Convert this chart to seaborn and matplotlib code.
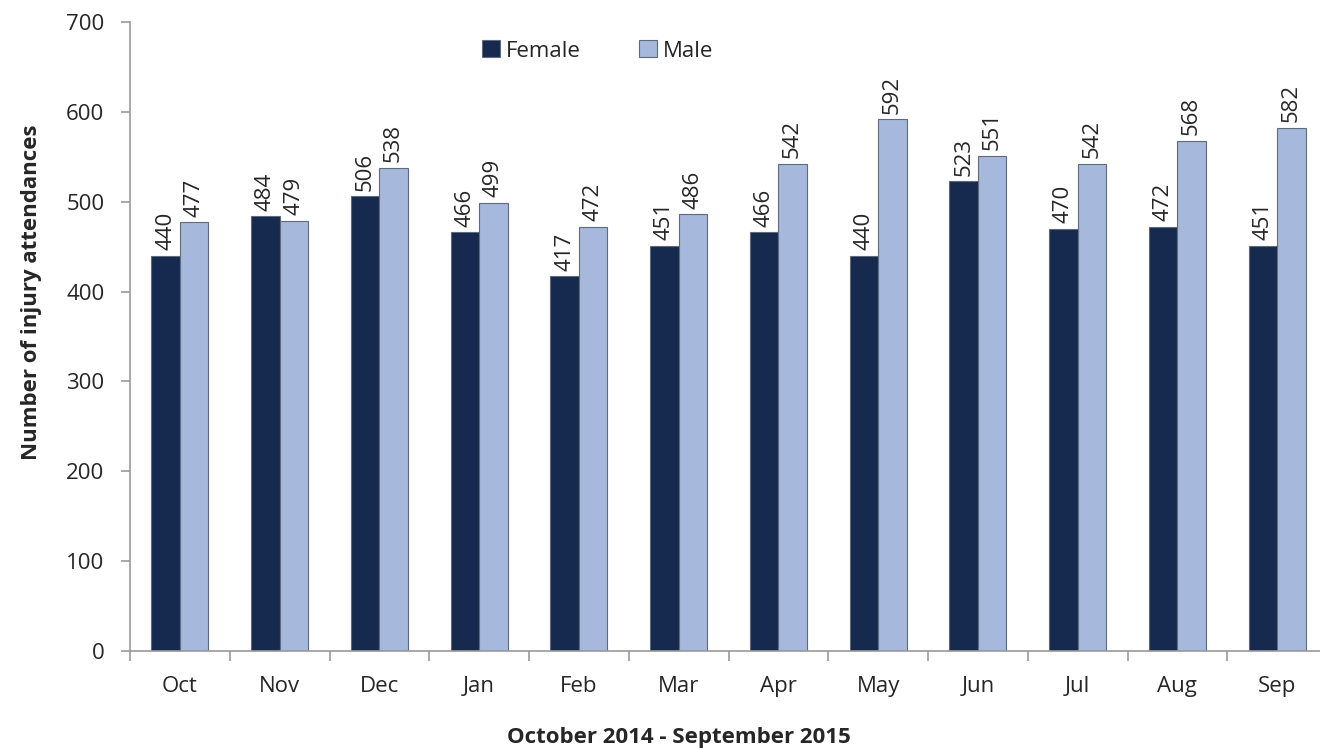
import pandas as pd
import matplotlib.pyplot as plt
import seaborn as sns
import numpy as np

months = ['Oct', 'Nov', 'Dec', 'Jan', 'Feb', 'Mar', 'Apr', 'May', 'Jun', 'Jul', 'Aug', 'Sep']
female = [440, 484, 506, 466, 417, 451, 466, 440, 523, 470, 472, 451]
male = [477, 479, 538, 499, 472, 486, 542, 592, 551, 542, 568, 582]

df = pd.DataFrame({
    'month': months * 2,
    'count': female + male,
    'sex': ['Female'] * len(months) + ['Male'] * len(months),
})

sns.set_style('white')
plt.rcParams['font.family'] = ['Open Sans', 'DejaVu Sans']

fig = plt.figure(figsize=(13.2, 7.49), dpi=100)
# right edge of the last category runs slightly past the image, as in the original
ax = fig.add_axes([0.0985, 0.1308, 0.9068, 0.8398])

palette = {'Female': '#152a4e', 'Male': '#a6b8dc'}
sns.barplot(data=df, x='month', y='count', hue='sex', palette=palette,
            width=0.57, ax=ax, saturation=1, edgecolor='#5f6b7d', linewidth=0.8)

for c in ax.containers:
    ax.bar_label(c, rotation=90, padding=4, fontsize=16)

ax.set_ylim(0, 700)
ax.set_yticks(range(0, 701, 100))
ax.set_xlim(-0.5, len(months) - 0.5)
ax.set_xticks(np.arange(-0.5, len(months), 1), minor=True)
ax.tick_params(axis='x', which='major', length=0, labelsize=16, pad=18)
ax.tick_params(axis='x', which='minor', length=7, color='#999999', width=1.2, direction='out', bottom=True)
ax.tick_params(axis='y', length=6.5, width=1.2, color='#999999', labelsize=16, left=True, pad=12)
for s in ['top', 'right']:
    ax.spines[s].set_visible(False)
for s in ['left', 'bottom']:
    ax.spines[s].set_color('#999999')
    ax.spines[s].set_linewidth(1.2)

ax.set_xlabel('')
ax.set_ylabel('')
fig.text(0.514, 0.0147, 'October 2014 - September 2015', fontsize=16, fontweight='bold',
         ha='center', va='center')
fig.text(0.0235, 0.61, 'Number of injury attendances', fontsize=16, fontweight='bold',
         ha='center', va='center', rotation=90)

handles, labels = ax.get_legend_handles_labels()
ax.legend_.remove()
fig.legend(handles, labels, loc='center left', bbox_to_anchor=(0.365, 0.932), ncol=2,
           frameon=False, fontsize=16, handlelength=0.8, handleheight=0.8,
           columnspacing=2.6, handletextpad=0.3, borderpad=0, borderaxespad=0)

fig.savefig('out.png', dpi=100)
